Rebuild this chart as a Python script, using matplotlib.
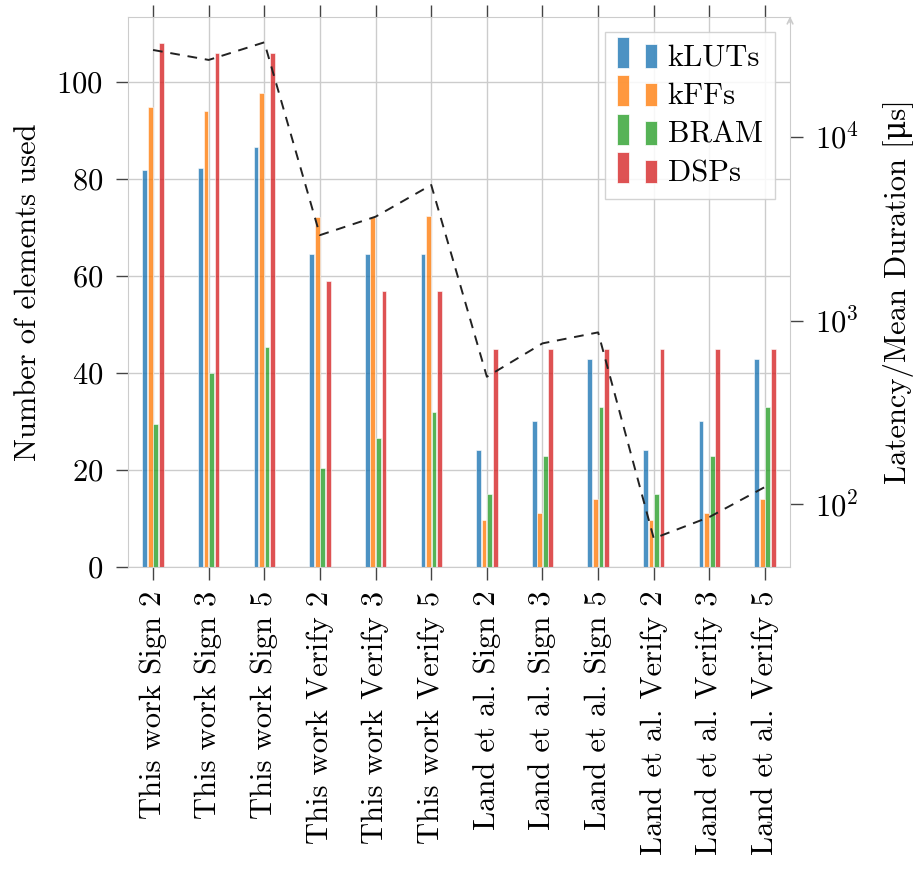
import numpy as np
import matplotlib
matplotlib.use("Agg")
import matplotlib.pyplot as plt
from matplotlib.patches import Rectangle
from matplotlib.legend_handler import HandlerBase
from matplotlib.container import BarContainer
from matplotlib.ticker import LogLocator, NullLocator, LogFormatterMathtext

plt.rcParams['font.family'] = ['cmr10', 'DejaVu Serif']
plt.rcParams['mathtext.fontset'] = 'cm'
plt.rcParams['axes.formatter.use_mathtext'] = True
plt.rcParams['axes.unicode_minus'] = False

categories = ['This work Sign 2', 'This work Sign 3', 'This work Sign 5',
              'This work Verify 2', 'This work Verify 3', 'This work Verify 5',
              'Land et al. Sign 2', 'Land et al. Sign 3', 'Land et al. Sign 5',
              'Land et al. Verify 2', 'Land et al. Verify 3', 'Land et al. Verify 5']

kluts = [81.8, 82.3, 86.6, 64.5, 64.5, 64.5, 24.2, 30.0, 42.8, 24.2, 30.0, 42.8]
kffs = [94.8, 94.0, 97.8, 72.2, 72.2, 72.4, 9.7, 11.2, 14.0, 9.7, 11.2, 14.0]
bram = [29.5, 40.0, 45.4, 20.5, 26.5, 32.0, 15.0, 22.9, 33.0, 15.0, 22.9, 33.0]
dsps = [108.0, 106.0, 106.0, 59.0, 57.0, 57.0, 45.0, 45.0, 45.0, 45.0, 45.0, 45.0]

latency = [29800, 26300, 32800, 2920, 3680, 5480, 494, 751, 862, 65, 85, 124]

series = [('kLUTs', kluts, 'tab:blue'), ('kFFs', kffs, 'tab:orange'),
          ('BRAM', bram, 'tab:green'), ('DSPs', dsps, 'tab:red')]

grid_c = '#cccccc'
tick_c = '#444444'
fs = 22


class TwoBars(HandlerBase):
    def create_artists(self, legend, orig_handle, xdescent, ydescent,
                       width, height, fontsize, trans):
        c = orig_handle.patches[0].get_facecolor()
        w = width * 0.3
        r1 = Rectangle((-xdescent, -ydescent - 0.1 * height), w, height * 1.45,
                       facecolor=c, edgecolor='white', lw=0.5, transform=trans)
        r2 = Rectangle((-xdescent + width * 0.7, -ydescent - 0.1 * height), w, height * 1.1,
                       facecolor=c, edgecolor='white', lw=0.5, transform=trans)
        return [r1, r2]


fig = plt.figure(figsize=(9.19, 8.69), dpi=100)
ax = fig.add_axes([0.1393, 0.3475, 0.7204, 0.633])
ax.set_axisbelow(True)

x = np.arange(len(categories))
bw = 0.085
step = 0.1
bars = []
for i, (name, vals, col) in enumerate(series):
    b = ax.bar(x + (i - 1.5) * step, vals, width=bw, color=col, alpha=0.8,
               edgecolor='white', linewidth=0.5, label=name)
    bars.append(b)

ax.set_xlim(-0.45, 11.45)
ax.set_ylim(0, 113.4)
ax.set_xticks(x)
ax.set_xticklabels(categories, rotation=90)
ax.set_yticks([0, 20, 40, 60, 80, 100])
ax.grid(True, color=grid_c, linewidth=1)
ax.tick_params(axis='both', direction='out', length=9, width=1, color=tick_c,
               labelsize=fs, pad=9)
ax.tick_params(axis='x', top=True, pad=8)
ax.set_ylabel('Number of elements used', fontsize=fs, labelpad=10)
for s in ax.spines.values():
    s.set_color(grid_c)
ax.spines['right'].set_visible(False)

ax2 = ax.twinx()
ax2.plot(x, latency, linestyle=(0, (5, 4)), color='#222222', linewidth=1.4)
ax2.set_yscale('log')
ax2.set_ylim(45.4, 45100)
ax2.yaxis.set_major_locator(LogLocator(base=10))
ax2.yaxis.set_major_formatter(LogFormatterMathtext())
ax2.yaxis.set_minor_locator(NullLocator())
ax2.tick_params(axis='y', direction='out', length=9, width=1, color=tick_c,
                labelsize=fs, pad=9)
ax2.set_ylabel('Latency/Mean Duration [\u03bcs]', fontsize=fs, labelpad=17)
for k, s in ax2.spines.items():
    s.set_visible(k == 'right')
ax2.spines['right'].set_color(grid_c)
ax2.annotate('', xy=(1, 1.006), xytext=(1, 0.985), xycoords='axes fraction',
             arrowprops=dict(arrowstyle='->', color=grid_c, lw=1.2))

leg = ax2.legend(bars, [s[0] for s in series], loc='upper right', fontsize=fs,
                 handler_map={BarContainer: TwoBars()}, handlelength=1.3,
                 handletextpad=0.35, labelspacing=0.36, fancybox=False,
                 edgecolor=grid_c, framealpha=0.85, borderpad=0.4)
leg.get_frame().set_linewidth(1)

fig.savefig('out.png', dpi=100)
